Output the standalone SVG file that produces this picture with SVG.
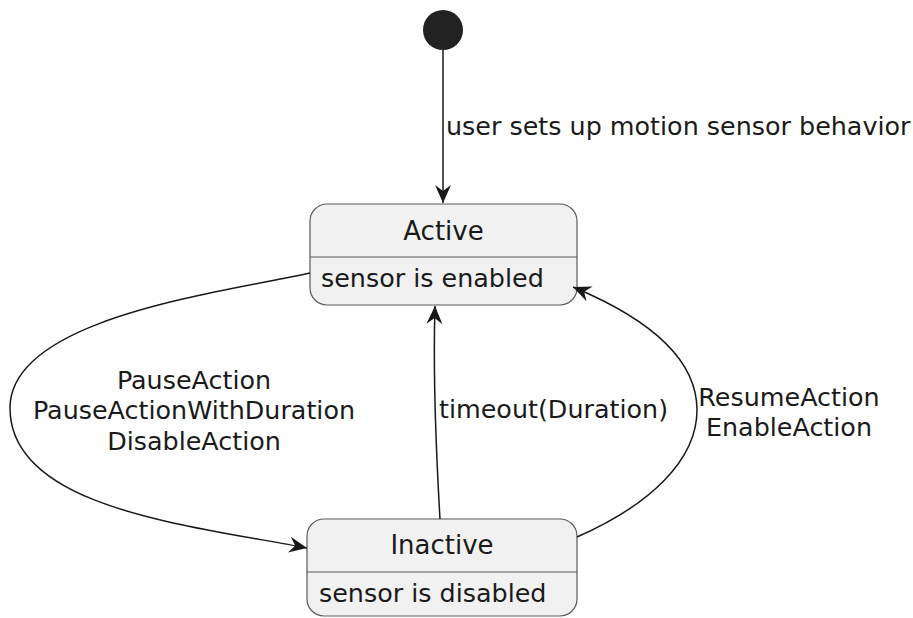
<svg xmlns="http://www.w3.org/2000/svg" width="913" height="618" viewBox="0 0 913 618">
<style>
text{font-family:"DejaVu Sans","Liberation Sans",sans-serif;font-size:25.4px;fill:#1a1a1a}
.t{text-anchor:middle}
.box{fill:#f1f1f1;stroke:#5a5a5a;stroke-width:1.2}
.div{stroke:#5a5a5a;stroke-width:1.2}
.edge{fill:none;stroke:#181818;stroke-width:1.5;marker-end:url(#ah)}
</style>
<defs>
<marker id="ah" markerUnits="userSpaceOnUse" markerWidth="20" markerHeight="20" refX="18" refY="9" orient="auto" overflow="visible">
<path d="M0,1 L18,9 L0,17 L6,9 Z" fill="#181818"/>
</marker>
</defs>
<g id="start"><circle cx="443" cy="30" r="20" fill="#222222"/></g>
<g id="active">
<rect class="box" x="310" y="204" width="267" height="101" rx="17"/>
<line class="div" x1="310" y1="257" x2="577" y2="257"/>
<text class="t" x="443.5" y="240" style="font-size:26px">Active</text>
<text x="321" y="287">sensor is enabled</text>
</g>
<g id="inactive">
<rect class="box" x="307" y="519" width="270" height="97" rx="17"/>
<line class="div" x1="307" y1="572" x2="577" y2="572"/>
<text class="t" x="442" y="554" style="font-size:26px">Inactive</text>
<text x="319" y="602">sensor is disabled</text>
</g>
<g id="connectors">
<path class="edge" d="M443,50 L443,203"/>
<text x="446" y="135">user sets up motion sensor behavior</text>
<path class="edge" d="M310,273 C220,293 10,318 10,408 C10,508 187,525 307,548"/>
<text class="t" x="194" y="389">PauseAction</text>
<text class="t" x="194" y="419">PauseActionWithDuration</text>
<text class="t" x="194" y="450">DisableAction</text>
<path class="edge" d="M440,519 C436,450 433,370 435,306"/>
<text x="439" y="418">timeout(Duration)</text>
<path class="edge" d="M577,537 C650,505 697,460 697,410 C697,355 640,315 573,287"/>
<text class="t" x="789" y="406">ResumeAction</text>
<text class="t" x="789" y="436">EnableAction</text>
</g>
</svg>
